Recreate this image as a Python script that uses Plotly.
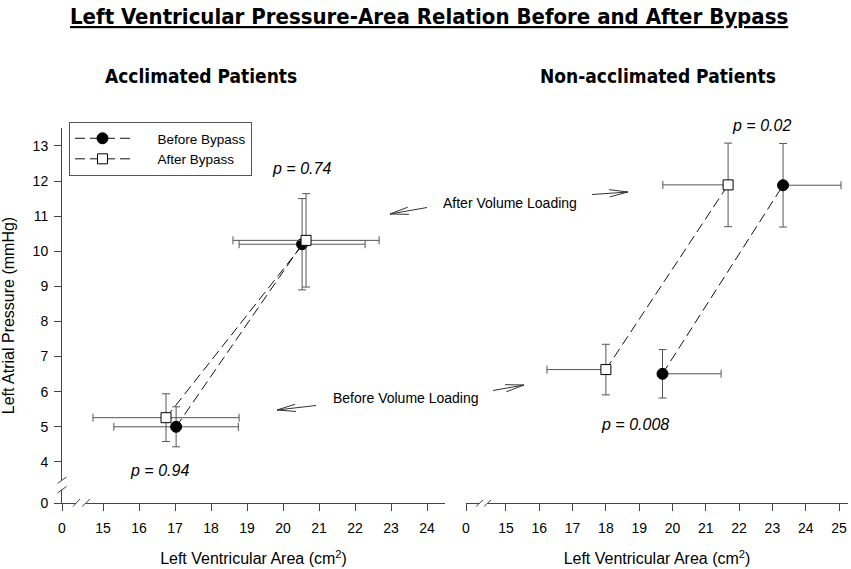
import math
import plotly.graph_objects as go

# ---------------- data ----------------
# Acclimated patients (left panel)
acc_before_x = [17.03, 20.53]
acc_before_y = [5.00, 10.20]
acc_before_xerr = [1.73, 1.75]
acc_before_yerr = [0.57, 1.30]

acc_after_x = [16.75, 20.64]
acc_after_y = [5.26, 10.31]
acc_after_xerr = [2.03, 2.03]
acc_after_yerr = [0.68, 1.33]

# Non-acclimated patients (right panel) - one-sided horizontal bars
non_before_x = [19.70, 23.32]
non_before_y = [6.51, 11.88]
non_before_xerr_plus = [1.76, 1.74]
non_before_xerr_minus = [0.0, 0.0]
non_before_yerr = [0.69, 1.19]

non_after_x = [18.00, 21.67]
non_after_y = [6.63, 11.89]
non_after_xerr_plus = [0.0, 0.0]
non_after_xerr_minus = [1.77, 1.96]
non_after_yerr = [0.72, 1.19]

# axis ticks (broken axes: "0" drawn just below the first real tick)
y_break_pos = 2.83
y_tick_vals = [y_break_pos, 4, 5, 6, 7, 8, 9, 10, 11, 12, 13]
y_tick_text = ["0", "4", "5", "6", "7", "8", "9", "10", "11", "12", "13"]
x1_break_pos = 13.86
x1_tick_vals = [x1_break_pos] + list(range(15, 25))
x1_tick_text = ["0"] + [str(v) for v in range(15, 25)]
x2_break_pos = 13.80
x2_tick_vals = [x2_break_pos] + list(range(15, 26))
x2_tick_text = ["0"] + [str(v) for v in range(15, 26)]

p_labels = ["p = 0.74", "p = 0.94", "p = 0.02", "p = 0.008"]

# ---------------- layout geometry ----------------
W, H = 851, 569
PL, PR, PT, PB = 62, 848, 128, 503          # plot area in pixels
ML, MR, MT, MB = PL, W - PR, PT, H - PB
PW = PR - PL
PH = PB - PT


def paper(px, py):
    return (px - PL) / PW, (PB - py) / PH


FONT = "Arial, Liberation Sans, sans-serif"
NARROW = "Liberation Sans Narrow, Arial Narrow, DejaVu Sans Condensed, sans-serif"
AX = "#444444"
ERR = "#555555"
DASH = "10px,5px"
NB = "\u00a0" * 6

fig = go.Figure()


def add(x, y, sym, fill, ex, ey, xa, ya, name, show):
    fig.add_trace(go.Scatter(
        x=x, y=y, mode="lines+markers", name=name, showlegend=show,
        xaxis=xa, yaxis=ya,
        line=dict(color="#111111", width=1, dash=DASH),
        marker=dict(symbol=sym, size=11 if sym == "circle" else 10, color=fill,
                    line=dict(color="black", width=1)),
        error_x=ex, error_y=ey,
    ))


def sym_err(arr):
    return dict(type="data", array=arr, color=ERR, thickness=1, width=4)


add(acc_before_x, acc_before_y, "circle", "black", sym_err(acc_before_xerr), sym_err(acc_before_yerr),
    "x", "y", NB + "Before Bypass", True)
add(acc_after_x, acc_after_y, "square", "white", sym_err(acc_after_xerr), sym_err(acc_after_yerr),
    "x", "y", NB + "After Bypass", True)
add(non_before_x, non_before_y, "circle", "black",
    dict(type="data", symmetric=False, array=non_before_xerr_plus, arrayminus=non_before_xerr_minus,
         color=ERR, thickness=1, width=4),
    sym_err(non_before_yerr), "x2", "y2", "Before Bypass", False)
add(non_after_x, non_after_y, "square", "white",
    dict(type="data", symmetric=False, array=non_after_xerr_plus, arrayminus=non_after_xerr_minus,
         color=ERR, thickness=1, width=4),
    sym_err(non_after_yerr), "x2", "y2", "After Bypass", False)

axis_common = dict(showgrid=False, zeroline=False, ticks="outside", ticklen=7, tickwidth=1,
                   tickcolor=AX, linecolor=AX, linewidth=1,
                   tickfont=dict(family=FONT, size=14, color="black"))

x_title = dict(text="Left Ventricular Area (cm<sup>2</sup>)", font=dict(family=FONT, size=16), standoff=18)

fig.update_layout(
    width=W, height=H, margin=dict(l=ML, r=MR, t=MT, b=MB, autoexpand=False),
    paper_bgcolor="white", plot_bgcolor="white",
    font=dict(family=FONT, size=13, color="black"),
    xaxis=dict(domain=[0, (445 - PL) / PW], range=[x1_break_pos, 24.5], tickvals=x1_tick_vals,
               ticktext=x1_tick_text, showline=True, anchor="y", ticklabelstandoff=5,
               title=x_title, **axis_common),
    xaxis2=dict(domain=[(466 - PL) / PW, 1.0], range=[x2_break_pos, 25.27], tickvals=x2_tick_vals,
                ticktext=x2_tick_text, showline=True, anchor="y2", ticklabelstandoff=5,
                title=x_title, **axis_common),
    yaxis=dict(range=[y_break_pos, 13.51], tickvals=y_tick_vals, ticktext=y_tick_text,
               showline=True, anchor="x", ticklabelstandoff=3,
               title=dict(text="Left Atrial Pressure (mmHg)", font=dict(family=FONT, size=16), standoff=17),
               **axis_common),
    yaxis2=dict(range=[y_break_pos, 13.51], showline=False, showticklabels=False, ticks="",
                showgrid=False, zeroline=False, anchor="x2", matches="y"),
    legend=dict(x=paper(69, 0)[0], y=paper(0, 122)[1], xanchor="left", yanchor="top",
                bordercolor="#555555", borderwidth=1, bgcolor="white",
                font=dict(family=FONT, size=13.5), itemwidth=55, tracegroupgap=0),
    showlegend=True,
)

# ---------------- text ----------------
ann = []


def ptext(text, px, py, font):
    a = paper(px, py)
    ann.append(dict(text=text, x=a[0], y=a[1], xref="paper", yref="paper", showarrow=False,
                    xanchor="center", yanchor="middle", font=font))


ptext("<b><u>Left Ventricular Pressure-Area Relation Before and After Bypass</u></b>", 429, 17,
      dict(family=NARROW, size=22, color="black"))
ptext("<b>Acclimated Patients</b>", 201, 76, dict(family=NARROW, size=19, color="black"))
ptext("<b>Non-acclimated Patients</b>", 658, 76, dict(family=NARROW, size=19, color="black"))

# p-values: x in data units, y in pixels
p_pos = [(20.5, 169, "x"), (16.58, 470, "x"), (22.66, 125, "x2"), (18.88, 424, "x2")]
for lab, (xx, py, xr) in zip(p_labels, p_pos):
    ann.append(dict(text="<i>%s</i>" % lab, x=xx, y=paper(0, py)[1], xref=xr, yref="paper",
                    showarrow=False, xanchor="center", yanchor="middle",
                    font=dict(family=FONT, size=16, color="black")))

ptext("After Volume Loading", 510, 203, dict(family=FONT, size=14, color="black"))
ptext("Before Volume Loading", 406, 398, dict(family=FONT, size=14, color="black"))
fig.update_layout(annotations=ann)

# ---------------- decorations: axis breaks and arrows ----------------
shapes = []


def rect(x0, y0, x1, y1):
    a = paper(x0, y0)
    b = paper(x1, y1)
    shapes.append(dict(type="rect", xref="paper", yref="paper", x0=a[0], y0=a[1], x1=b[0], y1=b[1],
                       fillcolor="white", line=dict(width=0), layer="above"))


def seg(x0, y0, x1, y1, color=AX, w=1):
    a = paper(x0, y0)
    b = paper(x1, y1)
    shapes.append(dict(type="line", xref="paper", yref="paper", x0=a[0], y0=a[1], x1=b[0], y1=b[1],
                       line=dict(color=color, width=w), layer="above"))


# y-axis break
rect(57, 480.5, 67, 489.5)
seg(57.5, 483.5, 66.5, 477)
seg(57.5, 493, 66.5, 486.5)
# left x-axis break
rect(76, 498, 86, 506)
seg(73, 506.5, 80, 499)
seg(82, 506.5, 90, 499)
# right x-axis break
rect(479.5, 498, 487.5, 506)
seg(476, 506.5, 483, 500)
seg(484, 506.5, 491, 500)


def arrow(tx, ty, hx, hy, blen=19, ang=11):
    seg(tx, ty, hx, hy, color="#333333", w=1)
    d = math.atan2(ty - hy, tx - hx)
    for s in (-1, 1):
        a = d + s * math.radians(ang)
        seg(hx, hy, hx + blen * math.cos(a), hy + blen * math.sin(a), color="#333333", w=1)


arrow(427, 207.5, 390, 214)
arrow(592, 194.5, 628, 192)
arrow(316, 405.5, 277, 410)
arrow(493, 390.5, 524, 385)

fig.update_layout(shapes=shapes)

fig.write_html(
    "out.html",
    config={"displayModeBar": False},
    post_script="document.body.style.margin='0px';document.body.style.overflow='hidden';"
                "document.documentElement.style.overflow='hidden';",
)
